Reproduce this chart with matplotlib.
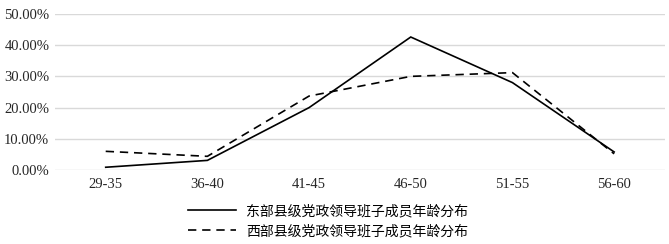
import matplotlib
matplotlib.use("Agg")
import matplotlib.pyplot as plt
from matplotlib.ticker import PercentFormatter

# age groups and share of members (%)
age_groups = ["29-35", "36-40", "41-45", "46-50", "51-55", "56-60"]
east = [0.9, 3.1, 20.0, 42.6, 28.0, 5.8]
west = [6.0, 4.4, 23.7, 30.0, 31.2, 5.2]
east_label = "东部县级党政领导班子成员年龄分布"
west_label = "西部县级党政领导班子成员年龄分布"

plt.rcParams["font.family"] = ["Liberation Serif", "DejaVu Serif"]

fig = plt.figure(figsize=(6.69, 2.44), dpi=100)
ax = fig.add_axes([0.082, 0.303, 0.912, 0.64])

x = range(len(age_groups))
l1, = ax.plot(x, east, color="black", lw=1.2, solid_joinstyle="miter")
l2, = ax.plot(x, west, color="black", lw=1.2, linestyle=(0, (5, 3.5)))

ax.set_xlim(-0.5, len(age_groups) - 0.5)
ax.set_ylim(0, 50)
ax.set_yticks([0, 10, 20, 30, 40, 50])
ax.yaxis.set_major_formatter(PercentFormatter(decimals=2))
ax.set_xticks(list(x))
ax.set_xticklabels(age_groups)
ax.tick_params(axis="both", length=0, labelsize=10.5, colors="#262626")
ax.tick_params(axis="x", pad=6)
ax.tick_params(axis="y", pad=4)
ax.grid(axis="y", color="#d9d9d9", lw=1)
ax.set_axisbelow(True)
for s in ax.spines.values():
    s.set_visible(False)

fig.legend([l1, l2], [east_label, west_label], loc="upper left",
           bbox_to_anchor=(0.262, 0.215), frameon=False, handlelength=3.5,
           handletextpad=0.7, labelspacing=0.45,
           prop={"family": ["Noto Sans CJK SC"], "size": 10})

fig.savefig("out.png", dpi=100)
